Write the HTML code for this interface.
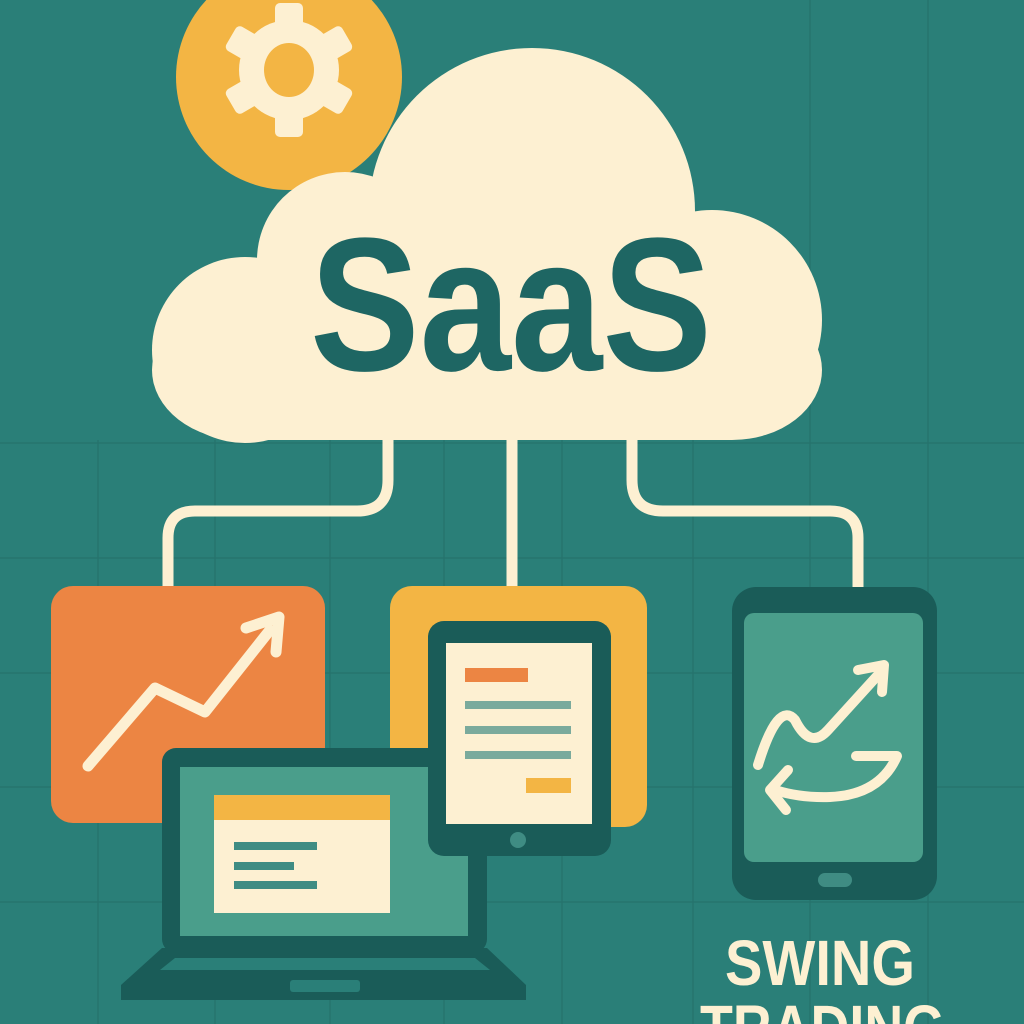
<!DOCTYPE html>
<html><head><meta charset="utf-8"><style>html,body{margin:0;padding:0;background:#2a7f78}svg{display:block}</style></head>
<body>
<svg width="1024" height="1024" viewBox="0 0 1024 1024" xmlns="http://www.w3.org/2000/svg">
<rect width="1024" height="1024" fill="#2a7f78"/>
<g stroke="#26726c" stroke-width="1.5" opacity="0.8">
<line x1="98" y1="440" x2="98" y2="1024"/><line x1="215" y1="440" x2="215" y2="1024"/><line x1="330" y1="440" x2="330" y2="1024"/><line x1="444" y1="440" x2="444" y2="1024"/><line x1="562" y1="440" x2="562" y2="1024"/><line x1="693" y1="440" x2="693" y2="1024"/><line x1="810" y1="0" x2="810" y2="1024"/><line x1="928" y1="0" x2="928" y2="1024"/>
<line x1="0" y1="443" x2="1024" y2="443"/><line x1="0" y1="558" x2="1024" y2="558"/><line x1="0" y1="673" x2="1024" y2="673"/><line x1="0" y1="787" x2="1024" y2="787"/><line x1="0" y1="902" x2="1024" y2="902"/>
</g>
<!-- gear circle -->
<circle cx="289" cy="77" r="113" fill="#f3b544"/>
<g fill="#fdf0d2" transform="translate(289,70)">
<circle r="50"/>
<g id="t"><rect x="-14" y="-67" width="28" height="30" rx="5"/></g>
<use href="#t" transform="rotate(60)"/><use href="#t" transform="rotate(120)"/><use href="#t" transform="rotate(180)"/><use href="#t" transform="rotate(240)"/><use href="#t" transform="rotate(300)"/>
<ellipse rx="25" ry="27" fill="#f3b544"/>
</g>
<!-- cloud -->
<g fill="#fdf0d2">
<circle cx="532" cy="211" r="163"/>
<circle cx="345" cy="260" r="88"/>
<circle cx="245" cy="350" r="93"/>
<circle cx="712" cy="320" r="110"/>
<rect x="152" y="300" width="670" height="140" rx="90"/>
<rect x="260" y="300" width="460" height="140"/>
</g>
<text x="310" y="370" font-family="Liberation Sans, sans-serif" font-weight="bold" font-size="190" fill="#1e6663" textLength="402" lengthAdjust="spacingAndGlyphs">SaaS</text>
<!-- connectors -->
<g fill="none" stroke="#fdf0d2" stroke-width="11">
<path d="M388 438 V480 Q388 511 357 511 H195 Q168 511 168 538 V588"/>
<path d="M512 438 V588"/>
<path d="M632 438 V480 Q632 511 663 511 H830 Q858 511 858 538 V590"/>
</g>
<!-- orange box -->
<rect x="51" y="586" width="274" height="237" rx="22" fill="#ec8543"/>
<g fill="none" stroke="#fdf0d2" stroke-width="11" stroke-linecap="round" stroke-linejoin="round">
<polyline points="88,766 155,688 205,712 270,630"/>
<polyline points="246,628 279,617 276,652"/>
</g>
<!-- yellow box -->
<rect x="390" y="586" width="257" height="241" rx="22" fill="#f3b544"/>
<!-- laptop -->
<rect x="162" y="748" width="325" height="205" rx="14" fill="#1a5c58"/>
<path d="M162 948 H487 L526 985 V1000 H121 V985 Z" fill="#1a5c58"/>
<path d="M175 958 H475 L490 970 H160 Z" fill="#2a7f78"/>
<rect x="290" y="980" width="70" height="12" rx="3" fill="#2a7f78"/>
<rect x="180" y="767" width="288" height="169" fill="#4a9e8b"/>
<rect x="214" y="795" width="176" height="118" fill="#fdf0d2"/>
<rect x="214" y="795" width="176" height="25" fill="#f3b544"/>
<g fill="#3f8c83"><rect x="234" y="842" width="83" height="8"/><rect x="234" y="862" width="60" height="8"/><rect x="234" y="881" width="83" height="8"/></g>
<!-- tablet -->
<rect x="428" y="621" width="183" height="235" rx="16" fill="#1a5c58"/>
<rect x="446" y="643" width="146" height="181" fill="#fdf0d2"/>
<rect x="465" y="668" width="63" height="14" fill="#ec8543"/>
<g fill="#7aaa9c"><rect x="465" y="701" width="106" height="8"/><rect x="465" y="726" width="106" height="8"/><rect x="465" y="751" width="106" height="8"/></g>
<rect x="526" y="778" width="45" height="15" fill="#f3b544"/>
<circle cx="518" cy="840" r="8" fill="#3f8c83"/>
<!-- phone -->
<rect x="732" y="587" width="205" height="313" rx="24" fill="#1a5c58"/>
<rect x="744" y="613" width="179" height="249" rx="10" fill="#4a9e8b"/>
<rect x="818" y="873" width="34" height="14" rx="7" fill="#3f8c83"/>
<g fill="none" stroke="#fdf0d2" stroke-width="10" stroke-linecap="round" stroke-linejoin="round">
<path d="M758 765 Q778 700 795 720 Q810 750 828 730 L878 675"/>
<polyline points="858,670 884,665 882,692"/>
<path d="M856 756 H897 Q880 795 830 797 Q800 798 775 790"/>
<polyline points="788,770 770,790 786,810"/>
</g>
<!-- text -->
<g font-family="Liberation Sans, sans-serif" font-weight="bold" fill="#fdf0d2">
<text x="725" y="985" font-size="64" textLength="190" lengthAdjust="spacingAndGlyphs">SWING</text>
<text x="700" y="1050" font-size="64" textLength="245" lengthAdjust="spacingAndGlyphs">TRADING</text>
</g>
</svg>
</body></html>
